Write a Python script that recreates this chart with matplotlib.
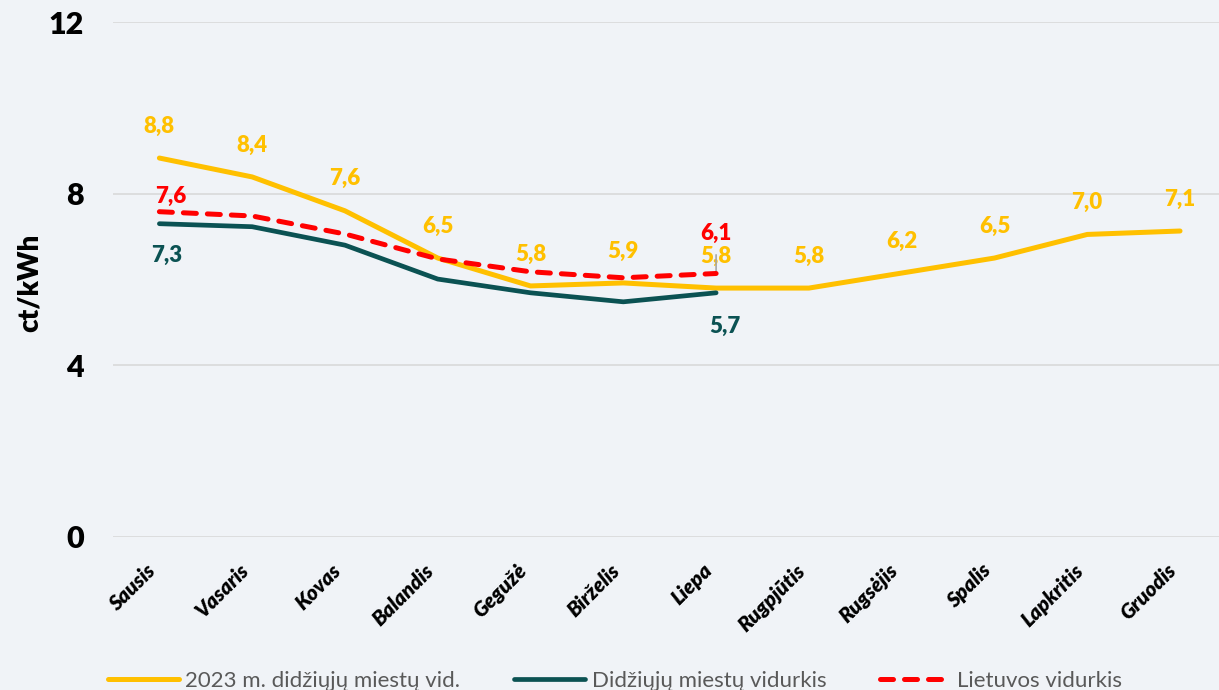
import matplotlib
matplotlib.use("Agg")
import matplotlib.pyplot as plt
import numpy as np

plt.rcParams['font.family'] = ['Lato', 'DejaVu Sans']

months = ["Sausis", "Vasaris", "Kovas", "Balandis", "Gegužė", "Birželis",
          "Liepa", "Rugpjūtis", "Rugsėjis", "Spalis", "Lapkritis", "Gruodis"]

# 2023 m. didžiųjų miestų vid.
avg_2023 = [8.83, 8.39, 7.6, 6.5, 5.85, 5.92, 5.8, 5.8, 6.15, 6.5, 7.05, 7.13]
labels_2023 = ["8,8", "8,4", "7,6", "6,5", "5,8", "5,9", "5,8", "5,8", "6,2", "6,5", "7,0", "7,1"]

# Didžiųjų miestų vidurkis (to Liepa)
cities = [7.3, 7.23, 6.8, 6.01, 5.69, 5.48, 5.69]
# Lietuvos vidurkis (to Liepa)
lithuania = [7.58, 7.48, 7.06, 6.48, 6.18, 6.04, 6.14]

YELLOW = "#FFC000"
GREEN = "#0B5253"
RED = "#FF0000"
BG = "#F0F3F7"

fig = plt.figure(figsize=(12.19, 6.9), dpi=100, facecolor=BG)
ax = fig.add_axes([113 / 1219, 1 - 537 / 690, (1219 - 113) / 1219, (537 - 22) / 690])
ax.set_facecolor(BG)

x = np.arange(len(months))
ax.plot(x, avg_2023, color=YELLOW, lw=3.6, solid_capstyle="round",
        label="2023 m. didžiųjų miestų vid.", zorder=3)
ax.plot(x[:len(cities)], cities, color=GREEN, lw=3.4, solid_capstyle="round",
        label="Didžiųjų miestų vidurkis", zorder=3)
ax.plot(x[:len(lithuania)], lithuania, color=RED, lw=3.6, dashes=(2.6, 2.2),
        dash_capstyle="round", label="Lietuvos vidurkis", zorder=4)

# data labels
lab = dict(ha="center", va="center", fontsize=16, fontweight="heavy",
           textcoords="offset points")
for i, v in enumerate(avg_2023):
    ax.annotate(labels_2023[i], (x[i], v), xytext=(0, 23), color=YELLOW, **lab)
ax.annotate("7,3", (x[0], cities[0]), xytext=(5, -23), color=GREEN, **lab)
ax.annotate("5,7", (x[6], cities[6]), xytext=(6, -24), color=GREEN, **lab)
ax.annotate("7,6", (x[0], lithuania[0]), xytext=(8, 11), color=RED, **lab)
ax.annotate("6,1", (x[6], lithuania[6]), xytext=(0, 29), color=RED,
            arrowprops=dict(arrowstyle="-", color="#A6A6A6", lw=1.2,
                            shrinkA=6, shrinkB=0), **lab)

ax.set_xlim(-0.5, 11.42)
ax.set_ylim(0, 12)
ax.set_yticks([0, 4, 8, 12])
ax.set_xticks(x)
ax.set_xticklabels(months, rotation=45, ha="right", fontsize=15,
                   fontweight="heavy", fontstyle="italic")
ax.tick_params(axis="x", length=0, pad=17)
ax.tick_params(axis="y", length=0, pad=21, labelsize=22)
for t in ax.get_yticklabels():
    t.set_fontweight("heavy")
ax.grid(axis="y", color="#D9D9D9", lw=1.2)
ax.set_axisbelow(True)
for s in ax.spines.values():
    s.set_visible(False)

fig.text(30 / 1219, 1 - 283 / 690, "ct/kWh", rotation=90, ha="center", va="center",
         fontsize=20, fontweight="heavy")

fig.legend(loc="center", bbox_to_anchor=(615 / 1219, 1 - 681 / 690), ncol=3, frameon=False,
           fontsize=16, labelcolor="#595959", handlelength=3.2, columnspacing=2.4,
           handletextpad=0.3)

plt.savefig("out.png", dpi=100, facecolor=BG)
